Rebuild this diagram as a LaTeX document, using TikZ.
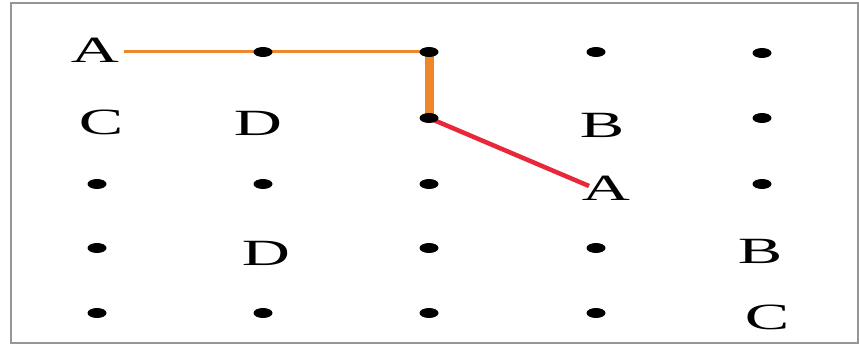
\documentclass[tikz,border=0pt]{standalone}
\usepackage{fontspec}
\usepackage{graphicx}
\setmainfont{Liberation Serif}
\usetikzlibrary{shapes.geometric}
\definecolor{pathorange}{RGB}{240,134,42}
\definecolor{pathred}{RGB}{232,40,58}
\definecolor{framegray}{RGB}{150,150,150}
\newcommand{\widechar}[1]{\scalebox{1.8}[1]{#1}}
\begin{document}
\begin{tikzpicture}[x=1pt,y=-1pt,
  gdot/.style={ellipse,fill=black,inner sep=0pt,minimum width=19pt,minimum height=10pt},
  letter/.style={inner sep=0pt,font=\fontsize{37}{37}\selectfont},
  thinpath/.style={draw=pathorange,line width=3pt},
  thickpath/.style={draw=pathorange,line width=9pt},
  redpath/.style={draw=pathred,line width=4.5pt}]
\useasboundingbox (0,0) rectangle (859,345);
\draw[framegray,line width=2pt] (11,3) rectangle (858,343);
% letters
\node[letter] (A1) at (95,50) {\widechar{A}};
\node[letter] (C1) at (101,122) {\widechar{C}};
\node[letter] (D1) at (258,123) {\widechar{D}};
\node[letter] (B1) at (602,125) {\widechar{B}};
\node[letter] (A2) at (606,188) {\widechar{A}};
\node[letter] (D2) at (266,253) {\widechar{D}};
\node[letter] (B2) at (760,251) {\widechar{B}};
\node[letter] (C2) at (767,317) {\widechar{C}};
% connectors (under the dots)
\coordinate (pstart) at (124,52);
\coordinate (p13) at (429,52);
\coordinate (p23) at (429,118);
\coordinate (pend) at (589,186);
\draw[thinpath] (pstart) -- (p13);
\draw[thickpath] (p13) -- (p23);
\draw[redpath] (p23) -- (pend);
% dots
\node[gdot] (d12) at (263,52) {};
\node[gdot] (d13) at (429,52) {};
\node[gdot] (d14) at (596,52) {};
\node[gdot] (d15) at (762,53) {};
\node[gdot] (d23) at (429,118) {};
\node[gdot] (d25) at (762,118) {};
\node[gdot] (d31) at (97,184) {};
\node[gdot] (d32) at (263,184) {};
\node[gdot] (d33) at (429,184) {};
\node[gdot] (d35) at (762,184) {};
\node[gdot] (d41) at (97,248) {};
\node[gdot] (d43) at (429,248) {};
\node[gdot] (d44) at (596,248) {};
\node[gdot] (d51) at (97,313) {};
\node[gdot] (d52) at (263,313) {};
\node[gdot] (d53) at (429,313) {};
\node[gdot] (d54) at (596,313) {};
\end{tikzpicture}
\end{document}
